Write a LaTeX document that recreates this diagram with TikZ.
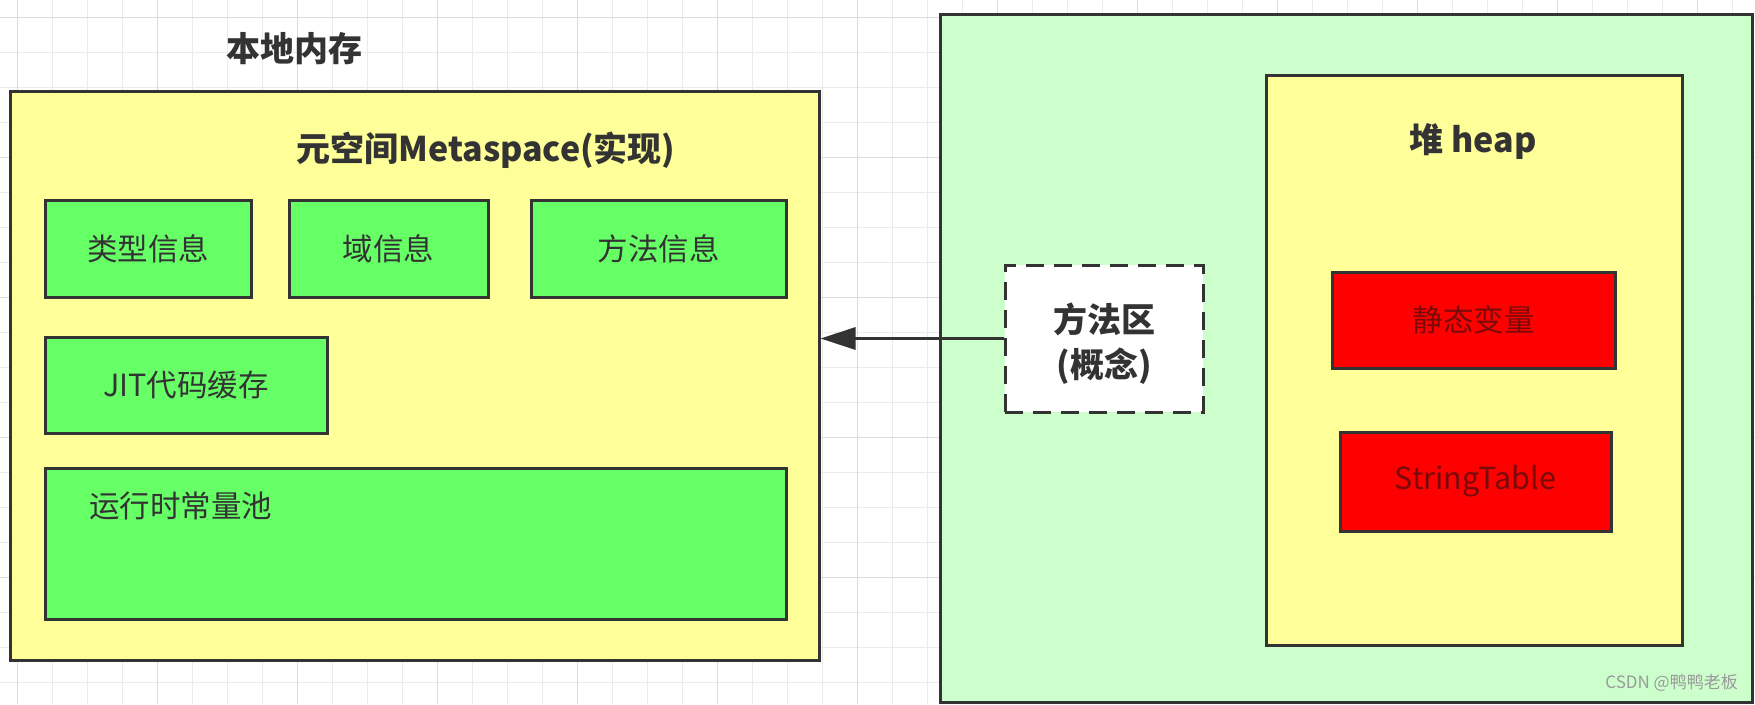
\documentclass[tikz,border=0pt]{standalone}
\usepackage{fontspec}
\newfontfamily\cjk{Noto Sans CJK SC}
\usetikzlibrary{arrows.meta}
\definecolor{gridminor}{HTML}{EBEBEB}
\definecolor{gridmajor}{HTML}{DCDCDC}
\definecolor{edge}{HTML}{333333}
\definecolor{paleyellow}{HTML}{FFFF99}
\definecolor{boxgreen}{HTML}{66FF66}
\definecolor{palegreen}{HTML}{CCFFCC}
\definecolor{boxred}{HTML}{FF0000}
\definecolor{txt}{HTML}{333333}
\definecolor{redtxt}{HTML}{7A0A0A}
\definecolor{wm}{HTML}{9A9A9A}
\tikzset{
  box/.style={draw=edge, line width=3pt, rectangle, inner sep=0pt},
  gbox/.style={box, fill=boxgreen, text=txt, font=\cjk\fontsize{30.5}{34}\selectfont},
  rbox/.style={box, fill=boxred, text=redtxt, font=\cjk\fontsize{30.5}{34}\selectfont},
  title/.style={text=txt, inner sep=0pt, font=\cjk\bfseries\fontsize{34}{38}\selectfont},
}
\begin{document}
\begin{tikzpicture}[x=1pt,y=-1pt]
\useasboundingbox (0,0) rectangle (1755,704);
\fill[white] (0,0) rectangle (1755,704);
% grid
\foreach \x in {17,52,...,1755} \draw[gridminor, line width=1pt] (\x,0) -- (\x,704);
\foreach \y in {17,52,...,704} \draw[gridminor, line width=1pt] (0,\y) -- (1755,\y);
\foreach \x in {17,157,...,1755} \draw[gridmajor, line width=1pt] (\x,0) -- (\x,704);
\foreach \y in {17,157,...,704} \draw[gridmajor, line width=1pt] (0,\y) -- (1755,\y);

% left: native memory
\node[title] (native) at (294,49) {本地内存};
\node[box, fill=paleyellow, minimum width=809pt, minimum height=569pt] (meta) at (414.5,375.5) {};
\node[title] (metatitle) at (486,150) {元空间Metaspace(实现)};
\node[gbox, minimum width=206pt, minimum height=97pt] (type) at (148,248.5) {类型信息};
\node[gbox, minimum width=199pt, minimum height=97pt] (field) at (388.5,248.5) {域信息};
\node[gbox, minimum width=255pt, minimum height=97pt] (method) at (658.5,248.5) {方法信息};
\node[gbox, minimum width=282pt, minimum height=96pt] (jit) at (186,385) {JIT代码缓存};
\node[gbox, minimum width=741pt, minimum height=151pt] (pool) at (415.5,543.5) {};
\node[text=txt, inner sep=0pt, anchor=west, font=\cjk\fontsize{30.5}{34}\selectfont] (pooltxt) at (89,506) {运行时常量池};

% right: heap side
\node[box, fill=palegreen, minimum width=812pt, minimum height=688pt] (jvm) at (1346,358) {};
\node[box, fill=paleyellow, minimum width=416pt, minimum height=570pt] (heap) at (1474,360) {};
\node[title] (heaptitle) at (1473,142) {堆 heap};
\node[rbox, minimum width=283pt, minimum height=96pt] (static) at (1473.5,320) {静态变量};
\node[rbox, minimum width=271pt, minimum height=99pt] (strtab) at (1475.5,481.5) {StringTable};

% method area (concept)
\node[box, fill=white, dash pattern=on 18pt off 10pt, minimum width=198pt, minimum height=147pt] (area) at (1104,338.5) {};
\node[title] (areatxt1) at (1104,319) {方法区};
\node[title] (areatxt2) at (1104,366) {(概念)};

\draw[edge, line width=3pt, -{Triangle[length=35pt,width=22pt]}] (area.west) -- (area.west -| meta.east);

\node[text=wm, inner sep=0pt, anchor=east, font=\cjk\fontsize{17}{20}\selectfont] (mark) at (1738,683) {CSDN @鸭鸭老板};
\end{tikzpicture}
\end{document}
